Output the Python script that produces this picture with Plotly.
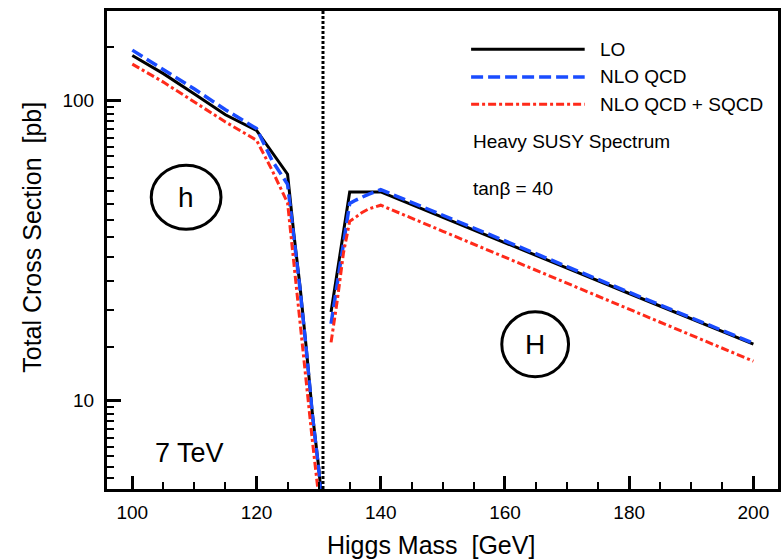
import plotly.graph_objects as go

# Higgs masses (GeV) and total cross sections (pb), tan(beta) = 40, 7 TeV
mass_h = [100, 105, 110, 115, 120, 122.5, 125, 126, 127, 128, 129, 130, 131]
lo_h = [141, 122.7, 105, 89.5, 79.4, 67.1, 56.7, 36, 24, 15, 9.0, 6.0, 3.6]
nlo_h = [147, 127, 109, 93, 80.5, 63, 52.5, 35, 23.5, 14.8, 8.9, 5.9, 3.5]
sqcd_h = [132, 115, 98.7, 84.7, 73.6, 58.5, 45.5, 29, 17.5, 11.2, 7.3, 4.8, 2.9]

mass_H = [132, 133, 134, 135, 136, 137, 138, 140, 150, 160, 170, 180, 190, 200]
lo_H = [19.7, 26.8, 36.4, 49.5, 49.5, 49.5, 49.5, 49.5, 40.7, 33.6, 27.6, 22.7, 18.7, 15.4]
nlo_H = [18.0, 24.6, 33.5, 45.3, 46.5, 47.6, 48.6, 50.4, 41.3, 34.0, 27.9, 22.9, 18.9, 15.5]
sqcd_H = [15.6, 21.5, 31, 39.5, 40.8, 42.3, 43.4, 44.7, 36.6, 30.0, 24.6, 20.1, 16.5, 13.5]

m_h_max = 130.7  # upper bound of the light scalar mass

x_major = [100, 120, 140, 160, 180, 200]
y_major = [10, 100]
y_minor = [5.5, 6, 6.5, 7, 7.5, 8, 8.5, 9, 9.5] + list(range(15, 100, 5)) + [150]

series = [
    ("LO", lo_h, lo_H, dict(color="black", width=3, dash="solid")),
    ("NLO QCD", nlo_h, nlo_H, dict(color="#1a4cff", width=3.5, dash="12px,5px")),
    ("NLO QCD + SQCD", sqcd_h, sqcd_H, dict(color="#ff2a1a", width=3, dash="8px,3px,3px,3px")),
]

FONT = "Liberation Sans, Arial, Helvetica, sans-serif"
W, H = 782, 560
L, R, T, B = 107.3, 780.7, 10.7, 488.7


def px(xp, yp):
    """Pixel position in the page -> paper coordinates of the plot area."""
    return (xp - L) / (R - L), (B - yp) / (B - T)


fig = go.Figure()
for name, yh, yH, line in series:
    fig.add_trace(go.Scatter(x=mass_h, y=yh, mode="lines", name=name,
                             line=line, showlegend=False))
    fig.add_trace(go.Scatter(x=mass_H, y=yH, mode="lines", name=name,
                             line=line, showlegend=False))

shapes = []
annotations = []

# vertical dotted marker
shapes.append(dict(type="line", xref="x", yref="paper", x0=m_h_max, x1=m_h_max,
                   y0=0, y1=1, line=dict(color="black", width=3, dash="3px,2px")))

# hand-drawn legend
leg_y = [49, 76.7, 104]
for (name, _, _, line), yy in zip(series, leg_y):
    x0, y0 = px(472.7, yy)
    x1, _ = px(586.7, yy)
    shapes.append(dict(type="line", xref="paper", yref="paper", x0=x0, x1=x1,
                       y0=y0, y1=y0, line=line))
    tx, ty = px(600, yy)
    annotations.append(dict(xref="paper", yref="paper", x=tx, y=ty, text=name,
                            showarrow=False, xanchor="left", yanchor="middle",
                            font=dict(size=19, color="black", family=FONT)))

for text, yy in [("Heavy SUSY Spectrum", 141.7), ("tanβ = 40", 188.3)]:
    tx, ty = px(473, yy)
    annotations.append(dict(xref="paper", yref="paper", x=tx, y=ty, text=text,
                            showarrow=False, xanchor="left", yanchor="middle",
                            font=dict(size=19, color="black", family=FONT)))

# circled particle labels
for label, cx, cy, w, h in [("h", 186.7, 197, 70, 64), ("H", 537, 344, 67, 65)]:
    x0, y0 = px(cx - w / 2, cy + h / 2)
    x1, y1 = px(cx + w / 2, cy - h / 2)
    shapes.append(dict(type="circle", xref="paper", yref="paper", x0=x0, x1=x1,
                       y0=y0, y1=y1, line=dict(color="black", width=3)))
    tx, ty = px(cx, cy)
    annotations.append(dict(xref="paper", yref="paper", x=tx, y=ty, text=label,
                            showarrow=False, xanchor="center", yanchor="middle",
                            font=dict(size=28, color="black", family=FONT)))

tx, ty = px(190, 453)
annotations.append(dict(xref="paper", yref="paper", x=tx, y=ty, text="7 TeV",
                        showarrow=False, xanchor="center", yanchor="middle",
                        font=dict(size=27, color="black", family=FONT)))

# axis titles
tx, ty = px(432, 545)
annotations.append(dict(xref="paper", yref="paper", x=tx, y=ty,
                        text="Higgs Mass  [GeV]", showarrow=False,
                        xanchor="center", yanchor="middle",
                        font=dict(size=25, color="black", family=FONT)))
tx, ty = px(32.5, 237)
annotations.append(dict(xref="paper", yref="paper", x=tx, y=ty,
                        text="Total Cross Section  [pb]", showarrow=False,
                        textangle=-90, xanchor="center", yanchor="middle",
                        font=dict(size=25, color="black", family=FONT)))

fig.update_layout(
    width=W, height=H,
    margin=dict(l=L, r=W - R, t=T, b=H - B, pad=0),
    paper_bgcolor="white", plot_bgcolor="white",
    shapes=shapes, annotations=annotations,
    font=dict(family=FONT, color="black"),
)

fig.update_xaxes(
    range=[95.925, 203.96], showgrid=False, zeroline=False,
    showline=True, linewidth=3, linecolor="black", mirror=True,
    tickmode="array", tickvals=x_major, ticks="inside", ticklen=13, tickwidth=3,
    tickcolor="black", tickfont=dict(size=19, color="black", family=FONT),
    ticklabelstandoff=4,
    minor=dict(tickmode="linear", tick0=0, dtick=5, ticks="inside", ticklen=7,
               tickwidth=1.5, tickcolor="black", showgrid=False),
)
fig.update_yaxes(
    type="log", range=[0.7043, 2.2977], showgrid=False, zeroline=False,
    showline=True, linewidth=3, linecolor="black", mirror=True,
    tickmode="array", tickvals=y_major, ticktext=["10", "100"],
    ticks="inside", ticklen=14, tickwidth=3,
    tickcolor="black", tickfont=dict(size=19, color="black", family=FONT),
    ticklabelstandoff=6,
    minor=dict(tickmode="array", tickvals=y_minor, ticks="inside", ticklen=7,
               tickwidth=1.5, tickcolor="black", showgrid=False),
)

fig.write_html("out.html")
